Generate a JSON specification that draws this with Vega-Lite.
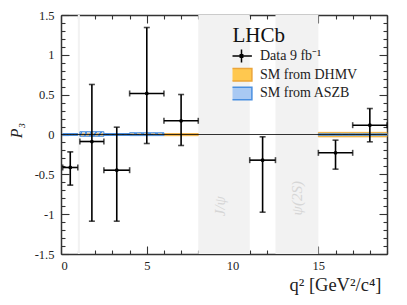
{
  "$schema": "https://vega.github.io/schema/vega-lite/v6.json",
  "width": 326,
  "height": 239,
  "autosize": {"type": "none"},
  "padding": {"left": 61, "top": 15, "right": 20, "bottom": 51},
  "background": "white",
  "datasets": {
    "bands": [{"a": 0.98, "b": 1.1}, {"a": 8, "b": 11}, {"a": 12.5, "b": 15}],
    "res": [{"t": "J/ψ", "x": 9.25, "y": -0.9}, {"t": "ψ(2S)", "x": 13.75, "y": -0.8}],
    "dhmv": [
      {"lo": 0.1, "hi": 0.98, "ylo": -0.012, "yhi": 0.01},
      {"lo": 1.1, "hi": 2.5, "ylo": -0.015, "yhi": 0.015},
      {"lo": 2.5, "hi": 4.0, "ylo": -0.012, "yhi": 0.01},
      {"lo": 4.0, "hi": 6.0, "ylo": -0.012, "yhi": 0.01},
      {"lo": 6.0, "hi": 8.0, "ylo": -0.015, "yhi": 0.012},
      {"lo": 15.0, "hi": 19.0, "ylo": -0.03, "yhi": 0.027}
    ],
    "aszb": [
      {"lo": 0.1, "hi": 0.98, "ylo": -0.012, "yhi": 0.012},
      {"lo": 1.1, "hi": 2.5, "ylo": -0.022, "yhi": 0.035},
      {"lo": 2.5, "hi": 4.0, "ylo": -0.012, "yhi": 0.012},
      {"lo": 4.0, "hi": 6.0, "ylo": -0.014, "yhi": 0.022},
      {"lo": 15.0, "hi": 19.0, "ylo": -0.01, "yhi": 0.008}
    ],
    "pts": [
      {"x": 0.54, "xlo": 0.1, "xhi": 0.98, "y": -0.414, "ylo": -0.636, "yhi": -0.218},
      {"x": 1.8, "xlo": 1.1, "xhi": 2.5, "y": -0.088, "ylo": -1.088, "yhi": 0.628},
      {"x": 3.25, "xlo": 2.5, "xhi": 4.0, "y": -0.448, "ylo": -1.088, "yhi": 0.092},
      {"x": 5.0, "xlo": 4.0, "xhi": 6.0, "y": 0.515, "ylo": -0.113, "yhi": 1.343},
      {"x": 7.0, "xlo": 6.0, "xhi": 8.0, "y": 0.172, "ylo": -0.138, "yhi": 0.502},
      {"x": 11.75, "xlo": 11.0, "xhi": 12.5, "y": -0.322, "ylo": -0.975, "yhi": -0.029},
      {"x": 16.0, "xlo": 15.0, "xhi": 17.0, "y": -0.23, "ylo": -0.435, "yhi": -0.071},
      {"x": 18.0, "xlo": 17.0, "xhi": 19.0, "y": 0.117, "ylo": -0.092, "yhi": 0.326}
    ],
    "leg": [{"s": "Data 9 fb⁻¹"}, {"s": "SM from DHMV"}, {"s": "SM from ASZB"}]
  },
  "resolve": {"axis": {"x": "independent", "y": "independent"}},
  "layer": [
    {
      "data": {"name": "bands"},
      "mark": {"type": "rect", "color": "#f2f2f2"},
      "encoding": {
        "x": {"field": "a", "type": "quantitative", "scale": {"domain": [0, 19], "nice": false, "zero": false},
          "axis": {"orient": "bottom", "values": [0,1,2,3,4,5,6,7,8,9,10,11,12,13,14,15,16,17,18,19],
            "labelExpr": "datum.value % 5 === 0 ? datum.label : ''",
            "labelFont": "Liberation Serif", "labelFontSize": 12.5,
            "tickSize": {"condition": {"test": "datum.value % 5 === 0", "value": -8}, "value": -4},
            "labelPadding": 13, "title": "q² [GeV²/c⁴]", "titleFont": "Liberation Serif", "titleFontSize": 18.5,
            "titleAnchor": "end", "titleAlign": "right", "titleX": 320, "titlePadding": 4}},
        "x2": {"field": "b"}
      }
    },
    {
      "data": {"name": "res"},
      "mark": {"type": "text", "angle": 270, "font": "Liberation Serif", "fontStyle": "italic", "fontSize": 15, "color": "#d6d6d6"},
      "encoding": {
        "x": {"field": "x", "type": "quantitative", "scale": {"domain": [0, 19], "nice": false, "zero": false}, "axis": null},
        "y": {"field": "y", "type": "quantitative", "scale": {"domain": [-1.5, 1.5], "nice": false, "zero": false}, "axis": null},
        "text": {"field": "t"}
      }
    },
    {
      "data": {"name": "dhmv"},
      "mark": {"type": "rect", "fill": "#ffc84f", "stroke": "#eba53a", "strokeWidth": 0.8},
      "encoding": {
        "x": {"field": "lo", "type": "quantitative", "scale": {"domain": [0, 19], "nice": false, "zero": false},
          "axis": {"orient": "top", "values": [0,1,2,3,4,5,6,7,8,9,10,11,12,13,14,15,16,17,18,19], "labels": false, "title": null,
            "tickSize": {"condition": {"test": "datum.value % 5 === 0", "value": -8}, "value": -4}}},
        "x2": {"field": "hi"},
        "y": {"field": "ylo", "type": "quantitative", "scale": {"domain": [-1.5, 1.5], "nice": false, "zero": false},
          "axis": {"orient": "right", "values": [-1.5,-1.4,-1.3,-1.2,-1.1,-1.0,-0.9,-0.8,-0.7,-0.6,-0.5,-0.4,-0.3,-0.2,-0.1,0,0.1,0.2,0.3,0.4,0.5,0.6,0.7,0.8,0.9,1.0,1.1,1.2,1.3,1.4,1.5],
            "labels": false, "title": null,
            "tickSize": {"condition": {"test": "abs(round(datum.value*2) - datum.value*2) < 0.001", "value": -8}, "value": -4}}},
        "y2": {"field": "yhi"}
      }
    },
    {
      "data": {"name": "aszb"},
      "mark": {"type": "rect", "stroke": "#4a8fe0", "strokeWidth": 1,
        "fill": {"gradient": "linear", "x1": 0, "y1": 0, "x2": 1, "y2": 1, "stops": [
          {"offset": 0, "color": "#4a8fe0"}, {"offset": 0.04, "color": "#4a8fe0"}, {"offset": 0.04, "color": "rgba(169,201,243,0.3)"}, {"offset": 0.1, "color": "rgba(169,201,243,0.3)"},
          {"offset": 0.1, "color": "#4a8fe0"}, {"offset": 0.14, "color": "#4a8fe0"}, {"offset": 0.14, "color": "rgba(169,201,243,0.3)"}, {"offset": 0.2, "color": "rgba(169,201,243,0.3)"},
          {"offset": 0.2, "color": "#4a8fe0"}, {"offset": 0.24, "color": "#4a8fe0"}, {"offset": 0.24, "color": "rgba(169,201,243,0.3)"}, {"offset": 0.3, "color": "rgba(169,201,243,0.3)"},
          {"offset": 0.3, "color": "#4a8fe0"}, {"offset": 0.34, "color": "#4a8fe0"}, {"offset": 0.34, "color": "rgba(169,201,243,0.3)"}, {"offset": 0.4, "color": "rgba(169,201,243,0.3)"},
          {"offset": 0.4, "color": "#4a8fe0"}, {"offset": 0.44, "color": "#4a8fe0"}, {"offset": 0.44, "color": "rgba(169,201,243,0.3)"}, {"offset": 0.5, "color": "rgba(169,201,243,0.3)"},
          {"offset": 0.5, "color": "#4a8fe0"}, {"offset": 0.54, "color": "#4a8fe0"}, {"offset": 0.54, "color": "rgba(169,201,243,0.3)"}, {"offset": 0.6, "color": "rgba(169,201,243,0.3)"},
          {"offset": 0.6, "color": "#4a8fe0"}, {"offset": 0.64, "color": "#4a8fe0"}, {"offset": 0.64, "color": "rgba(169,201,243,0.3)"}, {"offset": 0.7, "color": "rgba(169,201,243,0.3)"},
          {"offset": 0.7, "color": "#4a8fe0"}, {"offset": 0.74, "color": "#4a8fe0"}, {"offset": 0.74, "color": "rgba(169,201,243,0.3)"}, {"offset": 0.8, "color": "rgba(169,201,243,0.3)"},
          {"offset": 0.8, "color": "#4a8fe0"}, {"offset": 0.84, "color": "#4a8fe0"}, {"offset": 0.84, "color": "rgba(169,201,243,0.3)"}, {"offset": 0.9, "color": "rgba(169,201,243,0.3)"},
          {"offset": 0.9, "color": "#4a8fe0"}, {"offset": 0.94, "color": "#4a8fe0"}, {"offset": 0.94, "color": "rgba(169,201,243,0.3)"}, {"offset": 1, "color": "rgba(169,201,243,0.3)"}
        ]}},
      "encoding": {
        "x": {"field": "lo", "type": "quantitative", "scale": {"domain": [0, 19], "nice": false, "zero": false}, "axis": null},
        "x2": {"field": "hi"},
        "y": {"field": "ylo", "type": "quantitative", "scale": {"domain": [-1.5, 1.5], "nice": false, "zero": false}, "axis": null},
        "y2": {"field": "yhi"}
      }
    },
    {
      "data": {"values": [{"z": 0}]},
      "mark": {"type": "rule", "color": "#000", "strokeWidth": 0.8},
      "encoding": {
        "y": {"field": "z", "type": "quantitative", "scale": {"domain": [-1.5, 1.5], "nice": false, "zero": false}, "axis": null}
      }
    },
    {
      "data": {"name": "pts"},
      "mark": {"type": "rule", "color": "#000", "strokeWidth": 1.6},
      "encoding": {
        "x": {"field": "xlo", "type": "quantitative", "scale": {"domain": [0, 19], "nice": false, "zero": false}, "axis": null},
        "x2": {"field": "xhi"},
        "y": {"field": "y", "type": "quantitative", "scale": {"domain": [-1.5, 1.5], "nice": false, "zero": false}, "axis": null}
      }
    },
    {
      "data": {"name": "pts"},
      "mark": {"type": "rule", "color": "#000", "strokeWidth": 1.6},
      "encoding": {
        "x": {"field": "x", "type": "quantitative", "scale": {"domain": [0, 19], "nice": false, "zero": false}, "axis": null},
        "y": {"field": "ylo", "type": "quantitative", "scale": {"domain": [-1.5, 1.5], "nice": false, "zero": false},
          "axis": {"orient": "left", "values": [-1.5,-1.4,-1.3,-1.2,-1.1,-1.0,-0.9,-0.8,-0.7,-0.6,-0.5,-0.4,-0.3,-0.2,-0.1,0,0.1,0.2,0.3,0.4,0.5,0.6,0.7,0.8,0.9,1.0,1.1,1.2,1.3,1.4,1.5],
            "labelExpr": "abs(round(datum.value*2) - datum.value*2) < 0.001 ? '' + datum.value : ''",
            "labelFont": "Liberation Serif", "labelFontSize": 12.5,
            "tickSize": {"condition": {"test": "abs(round(datum.value*2) - datum.value*2) < 0.001", "value": -8}, "value": -4},
            "labelPadding": 15, "title": "P₃", "titleFont": "Liberation Serif", "titleFontStyle": "italic", "titleFontSize": 16, "titleAnchor": "middle", "titleY": 115, "titlePadding": 10}},
        "y2": {"field": "yhi"}
      }
    },
    {
      "data": {"name": "pts"},
      "mark": {"type": "tick", "orient": "vertical", "color": "#000", "size": 6, "thickness": 1.6},
      "encoding": {
        "x": {"field": "xlo", "type": "quantitative", "scale": {"domain": [0, 19], "nice": false, "zero": false}, "axis": null},
        "y": {"field": "y", "type": "quantitative", "scale": {"domain": [-1.5, 1.5], "nice": false, "zero": false}, "axis": null}
      }
    },
    {
      "data": {"name": "pts"},
      "mark": {"type": "tick", "orient": "vertical", "color": "#000", "size": 6, "thickness": 1.6},
      "encoding": {
        "x": {"field": "xhi", "type": "quantitative", "scale": {"domain": [0, 19], "nice": false, "zero": false}, "axis": null},
        "y": {"field": "y", "type": "quantitative", "scale": {"domain": [-1.5, 1.5], "nice": false, "zero": false}, "axis": null}
      }
    },
    {
      "data": {"name": "pts"},
      "mark": {"type": "tick", "orient": "horizontal", "color": "#000", "size": 6, "thickness": 1.6},
      "encoding": {
        "x": {"field": "x", "type": "quantitative", "scale": {"domain": [0, 19], "nice": false, "zero": false}, "axis": null},
        "y": {"field": "ylo", "type": "quantitative", "scale": {"domain": [-1.5, 1.5], "nice": false, "zero": false}, "axis": null}
      }
    },
    {
      "data": {"name": "pts"},
      "mark": {"type": "tick", "orient": "horizontal", "color": "#000", "size": 6, "thickness": 1.6},
      "encoding": {
        "x": {"field": "x", "type": "quantitative", "scale": {"domain": [0, 19], "nice": false, "zero": false}, "axis": null},
        "y": {"field": "yhi", "type": "quantitative", "scale": {"domain": [-1.5, 1.5], "nice": false, "zero": false}, "axis": null}
      }
    },
    {
      "data": {"name": "pts"},
      "mark": {"type": "point", "filled": true, "color": "#000", "size": 14, "opacity": 1},
      "encoding": {
        "x": {"field": "x", "type": "quantitative", "scale": {"domain": [0, 19], "nice": false, "zero": false}, "axis": null},
        "y": {"field": "y", "type": "quantitative", "scale": {"domain": [-1.5, 1.5], "nice": false, "zero": false}, "axis": null}
      }
    },
    {
      "data": {"name": "leg"},
      "mark": {"type": "point", "filled": true, "opacity": 0},
      "encoding": {
        "fill": {"field": "s", "type": "nominal",
          "scale": {"domain": ["Data 9 fb⁻¹", "SM from DHMV", "SM from ASZB"], "range": ["#000", "#ffc84f", "#a9c9f3"]},
          "legend": {"orient": "none", "legendX": 171.5, "legendY": 10, "title": "LHCb", "labelFont": "Liberation Serif", "titleFont": "Liberation Serif", "rowPadding": 2.7, "clipHeight": 16, "symbolSize": 256, "labelOffset": 9.5}},
        "stroke": {"field": "s", "type": "nominal",
          "scale": {"domain": ["Data 9 fb⁻¹", "SM from DHMV", "SM from ASZB"], "range": ["#000", "#eba53a", "#4a8fe0"]},
          "legend": {"orient": "none", "legendX": 171.5, "legendY": 10, "title": "LHCb", "labelFont": "Liberation Serif", "titleFont": "Liberation Serif", "rowPadding": 2.7, "clipHeight": 16, "symbolSize": 256, "labelOffset": 9.5}},
        "shape": {"field": "s", "type": "nominal",
          "scale": {"domain": ["Data 9 fb⁻¹", "SM from DHMV", "SM from ASZB"], "range": ["M-1.3,0H1.3M0,-0.8V0.8M-0.15,-0.15H0.15V0.15H-0.15Z", "M-1.3,-0.78H1.3V0.78H-1.3Z", "M-1.3,-0.78H1.3V0.78H-1.3Z"]},
          "legend": {"orient": "none", "legendX": 171.5, "legendY": 10, "title": "LHCb", "labelFont": "Liberation Serif", "titleFont": "Liberation Serif", "rowPadding": 2.7, "clipHeight": 16, "symbolSize": 256, "labelOffset": 9.5}}
      }
    }
  ],
  "config": {
    "view": {"stroke": null},
    "font": "Liberation Serif",
    "axis": {
      "grid": false,
      "domainColor": "#333",
      "domainWidth": 1.5,
      "tickColor": "#333",
      "tickWidth": 1.1,
      "labelFont": "Liberation Serif",
      "labelFontSize": 12.5,
      "labelColor": "#222",
      "titleFont": "Liberation Serif",
      "titleFontSize": 15,
      "titleFontWeight": "normal",
      "titleColor": "#222"
    },
    "legend": {
      "titleFont": "Liberation Serif",
      "titleFontSize": 21,
      "titleFontWeight": "normal",
      "titleColor": "#111",
      "titlePadding": 2,
      "labelFont": "Liberation Serif",
      "labelFontSize": 14,
      "labelColor": "#222",
      "symbolStrokeWidth": 1.5,
      "symbolOpacity": 1
    }
  }
}
